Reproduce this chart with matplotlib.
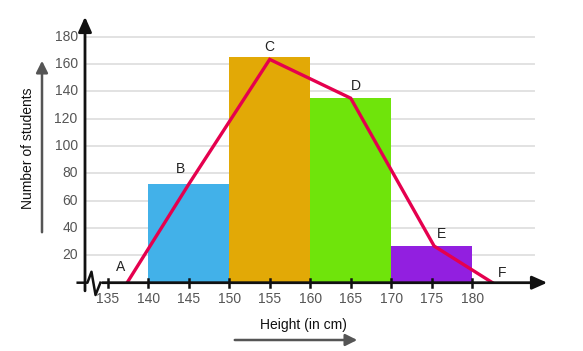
import matplotlib.pyplot as plt
from matplotlib.patches import FancyArrowPatch

plt.rcParams["font.family"] = ["Liberation Sans", "DejaVu Sans"]

# histogram data
bin_left = [140, 150, 160, 170]
bin_width = [10, 10, 10, 10]
counts = [72, 165, 135, 27]
bar_colors = ["#42b1e9", "#e2a906", "#6fe40b", "#921fe0"]

# frequency polygon points A..F
poly_x = [137.4, 145, 155, 165, 175.3, 182.5]
poly_y = [0, 72, 163.4, 135, 26.8, 0]
poly_labels = ["A", "B", "C", "D", "E", "F"]
label_dx = [-0.8, -1.0, 0, 0.6, 0.9, 1.2]
label_dy = [6, 6, 4, 4, 4, 2]

xticks = [135, 140, 145, 150, 155, 160, 165, 170, 175, 180]
yticks = [20, 40, 60, 80, 100, 120, 140, 160, 180]

W, H = 583, 351
fig = plt.figure(figsize=(W / 100, H / 100), dpi=100)
ax = fig.add_axes([85 / W, (H - 282.7) / H, 465 / W, (282.7 - 14) / H])
x0, x1 = 132.2, 189.6
y0, y1 = 0, 196.6
ax.set_xlim(x0, x1)
ax.set_ylim(y0, y1)
ax.axis("off")

# gridlines
for y in yticks:
    ax.plot([x0, 187.6], [y, y], color="#e2e2e2", lw=1.4, zorder=0)

ax.bar(bin_left, counts, width=bin_width, align="edge", color=bar_colors, zorder=2)
ax.plot(poly_x, poly_y, color="#e5004e", lw=2.4, zorder=3, solid_joinstyle="miter")
for x, y, s, dx, dy in zip(poly_x, poly_y, poly_labels, label_dx, label_dy):
    ax.text(x + dx, y + dy, s, ha="center", va="bottom", fontsize=10, color="#222222", zorder=4)

# y axis with arrow
ax.annotate("", xy=(x0, y1), xytext=(x0, -8), xycoords="data",
            arrowprops=dict(arrowstyle="-|>,head_width=0.4,head_length=0.9", color="#111111", lw=2),
            annotation_clip=False)
# x axis with break and arrow
ax.plot([x0 - 0.9, x0 + 0.3, x0 + 0.8, x0 + 1.3, x0 + 1.9], [0, 0, 8, -9, 0],
        color="#111111", lw=1.8, clip_on=False, zorder=5)
ax.annotate("", xy=(x1, 0), xytext=(x0 + 1.8, 0), xycoords="data",
            arrowprops=dict(arrowstyle="-|>,head_width=0.4,head_length=0.9", color="#111111", lw=2),
            annotation_clip=False, zorder=5)

for t in xticks:
    ax.plot([t, t], [-3, 3], color="#111111", lw=1.8, clip_on=False, zorder=5)
    ax.text(t, -7, str(t), ha="center", va="top", fontsize=10, color="#555555")
for t in yticks:
    ax.text(x0 - 0.9, t, str(t), ha="right", va="center", fontsize=10, color="#555555")

# axis titles with arrows
fig.text(28 / W, 1 - 148 / H, "Number of students", rotation=90, ha="center", va="center",
         fontsize=10, color="#111111")
fig.patches.append(FancyArrowPatch(
    (42 / W, 1 - 235 / H), (42 / W, 1 - 58 / H), transform=fig.transFigure,
    arrowstyle="-|>,head_width=3.5,head_length=7", color="#555555", lw=1.8))
fig.text(303 / W, 1 - 325 / H, "Height (in cm)", ha="center", va="center",
         fontsize=10, color="#111111")
fig.patches.append(FancyArrowPatch(
    (232 / W, 1 - 340 / H), (360 / W, 1 - 340 / H), transform=fig.transFigure,
    arrowstyle="-|>,head_width=3.5,head_length=7", color="#555555", lw=1.8))

fig.savefig("out.png", dpi=100)
